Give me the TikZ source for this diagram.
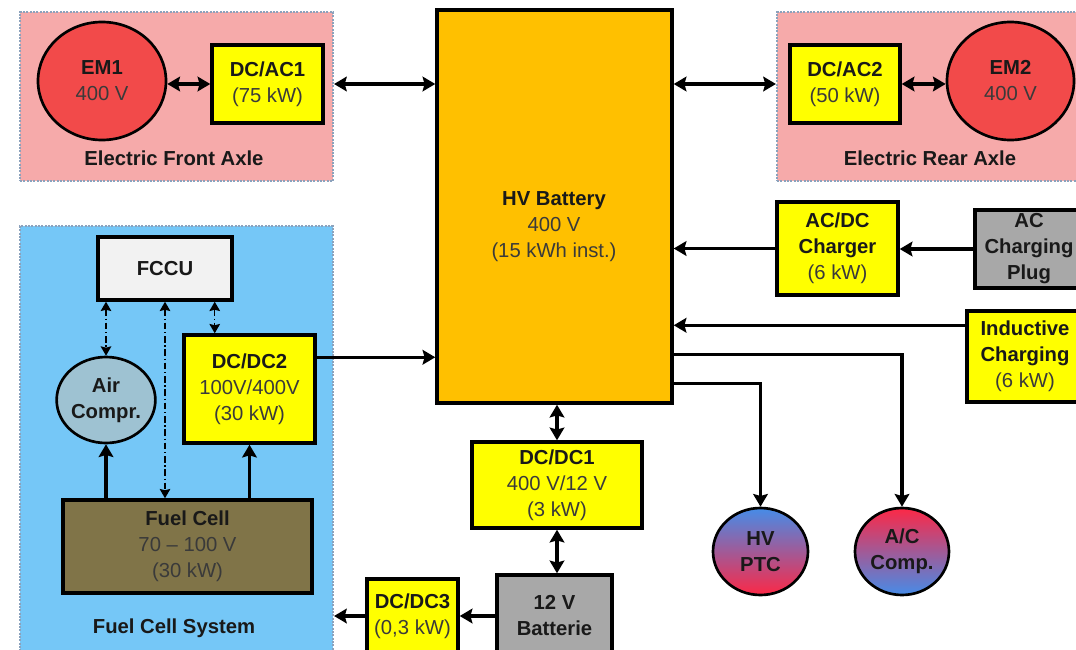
\documentclass[tikz,border=0pt]{standalone}
\usepackage{fontspec}
\setmainfont{Liberation Sans}
\usetikzlibrary{arrows.meta,shapes.geometric,calc}
\definecolor{pinkc}{RGB}{246,170,170}
\definecolor{grpborder}{RGB}{140,162,188}
\definecolor{bluec}{RGB}{117,199,247}
\definecolor{redc}{RGB}{242,74,74}
\definecolor{yel}{RGB}{255,255,0}
\definecolor{batc}{RGB}{255,192,0}
\definecolor{grayc}{RGB}{168,168,168}
\definecolor{fccuc}{RGB}{242,242,242}
\definecolor{airc}{RGB}{158,194,210}
\definecolor{fcc}{RGB}{128,116,72}
\definecolor{ptcblue}{RGB}{70,140,232}
\definecolor{ptcred}{RGB}{252,40,70}
\definecolor{txtdark}{RGB}{25,25,25}
\definecolor{txtgray}{RGB}{58,58,58}
\newcommand\lgt[1]{\textcolor{txtgray}{#1}}
\begin{document}
\begin{tikzpicture}[x=0.75pt,y=-0.75pt,
  font=\fontsize{15.2}{19.5}\selectfont, text=txtdark,
  sz/.style 2 args={minimum width=#1*0.75pt, minimum height=#2*0.75pt},
  box/.style={draw=black, line width=2.6pt, align=center, inner sep=0pt},
  ybox/.style={box, fill=yel},
  circ/.style={ellipse, draw=black, line width=2pt, align=center, inner sep=0pt},
  grp/.style={draw=grpborder, line width=1.6pt, dash pattern=on 1.6pt off 0.9pt, inner sep=0pt},
  lbl/.style={font=\fontsize{15.2}{19.5}\selectfont\bfseries, inner sep=0pt},
  conn/.style={line width=2.4pt, -{Stealth[length=9.5pt,width=11pt,inset=1.5pt]}},
  bconn/.style={line width=2.4pt, {Stealth[length=9.5pt,width=11pt,inset=1.5pt]}-{Stealth[length=9.5pt,width=11pt,inset=1.5pt]}},
  ctrl/.style={line width=1pt, dash pattern=on 5pt off 2pt on 1pt off 2pt,
    {Stealth[length=7pt,width=8pt,inset=1pt]}-{Stealth[length=7pt,width=8pt,inset=1pt]}}]
\useasboundingbox (0,0) rectangle (1076,650);
\clip (0,0) rectangle (1076,650);
\fill[white] (0,0) rectangle (1076,650);

% groups
\node[grp, fill=pinkc, sz={313}{169}] (front) at (176.5,96.5) {};
\node[grp, fill=pinkc, sz={313}{169}] (rear) at (933.5,96.5) {};
\node[grp, fill=bluec, sz={313}{444}] (fcs) at (176.5,448) {};
\node[lbl] (frontlbl) at (174,158) {Electric Front Axle};
\node[lbl] (rearlbl) at (930,158) {Electric Rear Axle};
\node[lbl] (fcslbl) at (174,628) {Fuel Cell System};

% front / rear axle
\node[circ, fill=redc, sz={128}{118}] (em1) at (102,81) {\textbf{EM1}\\\lgt{400 V}};
\node[ybox, sz={111}{78}] (dcac1) at (267.5,84) {\textbf{DC/AC1}\\\lgt{(75 kW)}};
\node[ybox, sz={110}{78}] (dcac2) at (845,84) {\textbf{DC/AC2}\\\lgt{(50 kW)}};
\node[circ, fill=redc, sz={127}{118}] (em2) at (1010.5,81) {\textbf{EM2}\\\lgt{400 V}};

% battery
\node[box, fill=batc, sz={235}{393}] (bat) at (554.5,206.5) {};
\node[align=center, inner sep=0pt] (battxt) at (554,227) {\textbf{HV Battery}\\\lgt{400 V}\\\lgt{(15 kWh inst.)}};

% charging
\node[ybox, sz={121}{93}] (chg) at (837.5,248.5) {\textbf{AC/DC}\\\textbf{Charger}\\\lgt{(6 kW)}};
\node[box, fill=grayc, sz={108}{78}] (plug) at (1029,249) {\textbf{AC}\\\textbf{Charging}\\\textbf{Plug}};
\node[ybox, sz={116}{91}] (ind) at (1025,356.5) {\textbf{Inductive}\\\textbf{Charging}\\\lgt{(6 kW)}};

% consumers
\node[circ, shading=axis, top color=ptcblue, bottom color=ptcred, sz={95}{87}] (ptc) at (760.5,551.5) {\textbf{HV}\\\textbf{PTC}};
\node[circ, shading=axis, top color=ptcred, bottom color=ptcblue, sz={94}{87}] (acc) at (902,551.5) {\textbf{A/C}\\\textbf{Comp.}};

% low voltage
\node[ybox, sz={170}{86}] (dcdc1) at (557,485) {\textbf{DC/DC1}\\\lgt{400 V/12 V}\\\lgt{(3 kW)}};
\node[box, fill=grayc, sz={115}{82}] (bat12) at (554.5,616) {\textbf{12 V}\\\textbf{Batterie}};
\node[ybox, sz={91}{74}] (dcdc3) at (412.5,616) {\textbf{DC/DC3}\\\lgt{(0,3 kW)}};

% fuel cell system
\node[box, fill=fccuc, sz={134}{63}] (fccu) at (165,268.5) {\textbf{FCCU}};
\node[circ, fill=airc, sz={95}{86}] (air) at (106,400) {\textbf{Air}\\\textbf{Compr.}};
\node[ybox, sz={131}{108}] (dcdc2) at (249.5,389) {\textbf{DC/DC2}\\\lgt{100V/400V}\\\lgt{(30 kW)}};
\node[box, fill=fcc, sz={249}{93}] (fc) at (187.5,546.5) {\textbf{Fuel Cell}\\\lgt{70 -- 100 V}\\\lgt{(30 kW)}};

% connectors
\draw[bconn] (dcac1.west) -- (dcac1.west -| em1.east);
\draw[bconn] (front.east |- dcac1.east) -- (bat.west |- dcac1.east);
\draw[bconn] (bat.east |- dcac2.west) -- (rear.west |- dcac2.west);
\draw[bconn] (dcac2.east) -- (dcac2.east -| em2.west);
\draw[conn] (chg.west) -- (chg.west -| bat.east);
\draw[conn] (plug.west) -- (plug.west -| chg.east);
\coordinate (indout) at ($(ind.north west)+(0,16)$);
\draw[conn] (indout) -- (indout -| bat.east);
\coordinate (acout) at ($(bat.south east)+(0,-50)$);
\coordinate (ptcout) at ($(bat.south east)+(0,-21)$);
\draw[conn] (acout) -| (acc.north);
\draw[conn] (ptcout) -| (ptc.north);
\draw[bconn] (dcdc1.north) -- (dcdc1.north |- bat.south);
\draw[bconn] (dcdc1.south) -- (dcdc1.south |- bat12.north);
\draw[conn] (bat12.west |- dcdc3.east) -- (dcdc3.east);
\draw[conn] (dcdc3.west) -- (dcdc3.west -| fcs.east);
\coordinate (dc2out) at ($(dcdc2.north east)+(0,24)$);
\draw[conn] (dc2out) -- (dc2out -| bat.west);
\draw[conn] (fc.north -| air.south) -- (air.south);
\draw[conn] (fc.north -| dcdc2.south) -- (dcdc2.south);
\draw[ctrl] (fccu.south -| air.north) -- (air.north);
\draw[ctrl] (fccu.south) -- (fccu.south |- fc.north);
\coordinate (fccuR) at ($(fccu.south east)+(-19,0)$);
\draw[ctrl] (fccuR) -- (fccuR |- dcdc2.north);
\end{tikzpicture}
\end{document}
